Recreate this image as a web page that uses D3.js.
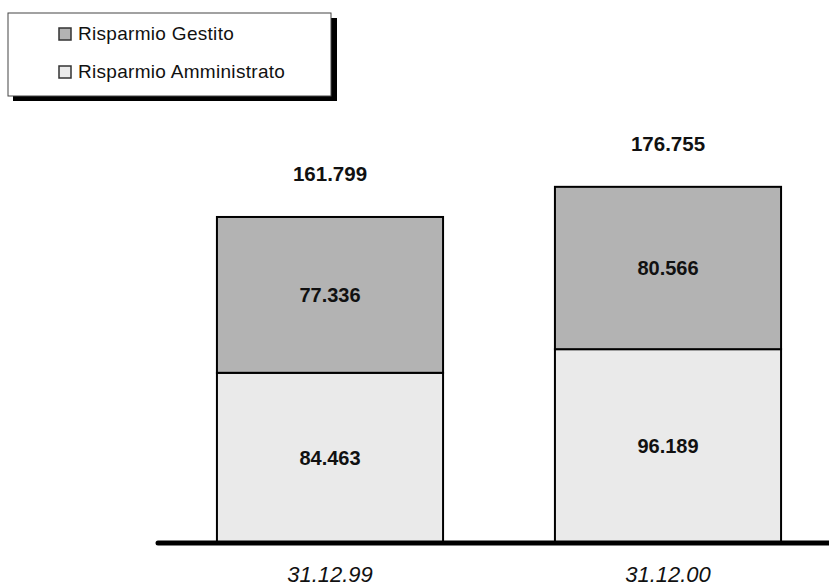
<!DOCTYPE html>
<html>
<head>
<meta charset="utf-8">
<script src="https://cdn.jsdelivr.net/npm/d3@7"></script>
<style>
  html, body { margin: 0; padding: 0; background: #fff; }
  svg { display: block; font-family: "Liberation Sans", Arial, sans-serif; }
</style>
</head>
<body>
<svg id="chart" width="829" height="586"></svg>
<script>
const categories = ["31.12.99", "31.12.00"];
const amministrato = [84463, 96189];
const gestito = [77336, 80566];
const totals = [161799, 176755];
const seriesNames = ["Risparmio Gestito", "Risparmio Amministrato"];
const seriesColors = ["#b3b3b3", "#eaeaea"];

const fmt = v => d3.format(",")(v).replace(/,/g, ".");

const svg = d3.select("#chart");
const baseY = 543;

const x = d3.scaleBand().domain(categories).range([161, 837]).paddingInner(0.331).paddingOuter(0.1655);
const y = d3.scaleLinear().domain([0, 200000]).range([baseY, baseY - 403]);

const rows = categories.map((c, i) => ({ cat: c, amm: amministrato[i], ges: gestito[i], tot: totals[i] }));

// stacked segments
const stack = d3.stack().keys(["amm", "ges"])(rows);
const fillFor = { amm: seriesColors[1], ges: seriesColors[0] };

stack.forEach(layer => {
  const g = svg.append("g");
  g.selectAll("rect").data(layer).join("rect")
    .attr("x", d => x(d.data.cat))
    .attr("y", d => y(d[1]))
    .attr("width", x.bandwidth())
    .attr("height", d => y(d[0]) - y(d[1]))
    .attr("fill", fillFor[layer.key])
    .attr("stroke", "#000")
    .attr("stroke-width", 2);
  g.selectAll("text").data(layer).join("text")
    .attr("x", d => x(d.data.cat) + x.bandwidth() / 2)
    .attr("y", d => (y(d[0]) + y(d[1])) / 2)
    .attr("text-anchor", "middle")
    .attr("dominant-baseline", "central")
    .attr("font-weight", "bold")
    .attr("font-size", 20)
    .attr("fill", "#111")
    .text(d => fmt(d.data[layer.key]));
});

// totals
svg.append("g").selectAll("text").data(rows).join("text")
  .attr("x", d => x(d.cat) + x.bandwidth() / 2)
  .attr("y", d => y(d.tot) - 36)
  .attr("text-anchor", "middle")
  .attr("font-weight", "bold")
  .attr("font-size", 20.5)
  .attr("fill", "#111")
  .text(d => fmt(d.tot));

// baseline axis
const axisG = svg.append("g").attr("transform", `translate(0,${baseY})`);
axisG.append("line").attr("x1", 158).attr("x2", 829).attr("y1", 0).attr("y2", 0)
  .attr("stroke", "#000").attr("stroke-width", 5).attr("stroke-linecap", "round");
const xAxis = d3.axisBottom(x).tickSize(0).tickPadding(0);
const ax = axisG.append("g").call(xAxis);
ax.select(".domain").remove();
ax.selectAll("text")
  .attr("y", 39)
  .attr("dy", 0)
  .attr("font-size", 22)
  .attr("font-style", "italic")
  .attr("font-family", "'Liberation Sans', Arial, sans-serif")
  .attr("fill", "#111");

// legend
const leg = svg.append("g");
leg.append("rect").attr("x", 13).attr("y", 18).attr("width", 324).attr("height", 83).attr("fill", "#000");
leg.append("rect").attr("x", 8).attr("y", 13).attr("width", 323).attr("height", 83)
  .attr("fill", "#fff").attr("stroke", "#444").attr("stroke-width", 1);
const items = leg.selectAll("g.item").data(seriesNames).join("g").attr("class", "item")
  .attr("transform", (d, i) => `translate(59,${28 + i * 38})`);
items.append("rect").attr("width", 12).attr("height", 12)
  .attr("fill", (d, i) => seriesColors[i]).attr("stroke", "#333").attr("stroke-width", 1.5);
items.append("text").attr("x", 19).attr("y", 11.5)
  .attr("font-size", 19).attr("letter-spacing", 0.3).attr("fill", "#111").text(d => d);
</script>
</body>
</html>
